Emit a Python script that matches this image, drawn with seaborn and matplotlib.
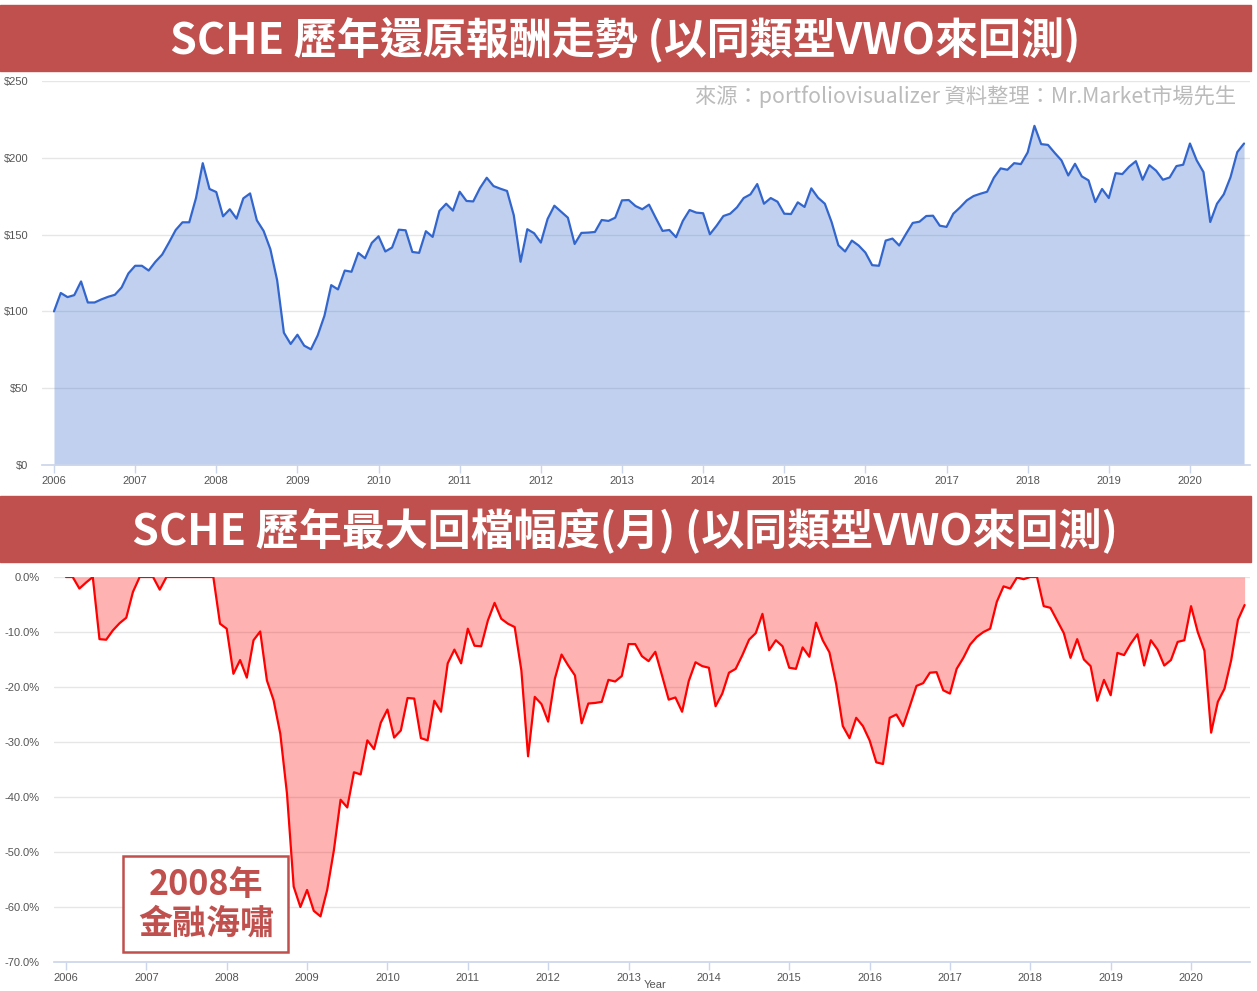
import numpy as np
import pandas as pd
import seaborn as sns
import matplotlib.pyplot as plt
from matplotlib.patches import Rectangle

# monthly values, Jan 2006 - Sep 2020
growth = [
    100, 112, 109.3, 110.6, 119.5, 105.8, 105.8, 107.8, 109.5, 110.8, 115.6, 124.7,    # 2006
    129.7, 129.7, 126.6, 132.3, 137, 144.8, 153, 158, 158, 173.8, 196.5, 179.7,        # 2007
    177.7, 161.9, 166.5, 160.4, 173.6, 176.8, 159.3, 152.4, 140.5, 120.3, 86.1, 78.8,  # 2008
    84.8, 77.7, 75.3, 84.4, 97.2, 117.1, 114.3, 126.6, 125.8, 138.1, 134.6, 144.6,     # 2009
    148.9, 139, 141.6, 153.2, 152.8, 138.7, 138.1, 152.2, 148.5, 165.4, 170.1, 165.6,  # 2010
    177.9, 171.9, 171.6, 180.3, 187, 181.6, 179.9, 178.4, 162.6, 132.3, 153.5, 150.9,  # 2011
    144.8, 160.2, 168.8, 164.9, 161, 143.9, 151.1, 151.3, 151.7, 159.5, 158.9, 161,    # 2012
    172.3, 172.5, 168.6, 166.5, 169.5, 160.8, 152.4, 153, 148.3, 158.9, 166, 164.3,    # 2013
    163.9, 150.2, 155.8, 162.1, 163.6, 167.7, 173.8, 176.2, 182.9, 170.1, 173.8, 171.4,  # 2014
    163.6, 163.4, 171, 168, 180.1, 174, 170.1, 158.2, 143.1, 139, 146.1, 142.9,        # 2015
    138.3, 130.1, 129.7, 146.1, 147.4, 142.9, 150.4, 157.6, 158.4, 162.1, 162.3, 155.8,  # 2016
    155, 163.6, 167.7, 172.3, 175.1, 176.6, 177.9, 187, 193.1, 192.2, 196.5, 195.9,    # 2017
    203.5, 220.8, 208.9, 208.4, 203.2, 198.3, 188.5, 196.1, 187.9, 185.3, 171.2, 179.7,  # 2018
    173.8, 190, 189.4, 194.2, 197.8, 185.7, 195.2, 191.6, 185.7, 187.2, 194.6, 195.5,  # 2019
    209.3, 198.3, 190.7, 158.2, 170.1, 176.2, 187.4, 203.7, 209.3,                     # 2020
]

# monthly drawdown in %, same months
drawdown = [
    0, 0, -2.1, -1.0, 0, -11.3, -11.4, -9.7, -8.4, -7.4, -2.7, 0,
    0, 0, -2.3, 0, 0, 0, 0, 0, 0, 0, 0, -8.5,
    -9.4, -17.6, -15.1, -18.3, -11.5, -9.9, -18.8, -22.4, -28.5, -39.4, -56.3, -60.0,
    -56.9, -60.7, -61.7, -56.9, -49.7, -40.5, -41.9, -35.5, -35.9, -29.7, -31.3, -26.5,
    -24.1, -29.2, -27.9, -22.0, -22.1, -29.3, -29.7, -22.5, -24.5, -15.7, -13.2, -15.7,
    -9.4, -12.5, -12.6, -7.9, -4.7, -7.6, -8.5, -9.1, -17.0, -32.6, -21.8, -23.1,
    -26.3, -18.5, -14.1, -16.1, -17.9, -26.6, -23.0, -22.9, -22.7, -18.7, -19.0, -18.0,
    -12.2, -12.2, -14.4, -15.3, -13.6, -17.9, -22.3, -21.9, -24.5, -18.9, -15.5, -16.2,
    -16.5, -23.5, -21.2, -17.4, -16.7, -14.2, -11.4, -10.2, -6.7, -13.3, -11.5, -12.6,
    -16.5, -16.7, -12.8, -14.5, -8.3, -11.5, -13.7, -19.4, -27.1, -29.3, -25.6, -27.1,
    -29.7, -33.7, -34.0, -25.6, -25.0, -27.1, -23.5, -19.8, -19.3, -17.4, -17.3, -20.6,
    -21.2, -16.7, -14.7, -12.3, -10.9, -10.0, -9.4, -4.5, -1.7, -2.1, -0.1, -0.4,
    0, 0, -5.3, -5.6, -7.9, -10.2, -14.7, -11.3, -15.0, -16.2, -22.5, -18.7,
    -21.5, -13.8, -14.2, -12.1, -10.4, -16.1, -11.5, -13.2, -16.1, -15.1, -11.8, -11.5,
    -5.3, -10.0, -13.4, -28.3, -22.7, -20.3, -15.1, -7.8, -5.1,
]

year_ticks = list(range(2006, 2021))
value_ticks = [0, 50, 100, 150, 200, 250]
value_labels = ['$0', '$50', '$100', '$150', '$200', '$250']
dd_ticks = [0, -10, -20, -30, -40, -50, -60, -70]
dd_labels = ['0.0%', '-10.0%', '-20.0%', '-30.0%', '-40.0%', '-50.0%', '-60.0%', '-70.0%']

title_top = 'SCHE 歷年還原報酬走勢 (以同類型VWO來回測)'
title_bottom = 'SCHE 歷年最大回檔幅度(月) (以同類型VWO來回測)'
source_text = '來源：portfoliovisualizer 資料整理：Mr.Market市場先生'
note_text = '2008年\n金融海嘯'

df = pd.DataFrame({'growth': growth, 'drawdown': drawdown})
df['year'] = 2006 + np.arange(len(df)) / 12

sns.set_theme(style='white')
plt.rcParams['font.family'] = ['Liberation Sans', 'Noto Sans CJK TC']

W, H = 1257, 991
BANNER = '#C0504D'
CJK = ['Noto Sans CJK TC', 'DejaVu Sans']


def box(x0, y0, x1, y1):
    return [x0 / W, 1 - y1 / H, (x1 - x0) / W, (y1 - y0) / H]


fig = plt.figure(figsize=(W / 100, H / 100), dpi=100)
ax1 = fig.add_axes(box(42, 81, 1250, 465))
ax2 = fig.add_axes(box(54, 577, 1250, 962))

# top: growth of $100
sns.lineplot(data=df, x='year', y='growth', ax=ax1, color='#3366CC', lw=1.6)
ax1.fill_between(df['year'], df['growth'], 0, color='#3366CC', alpha=0.3, lw=0)
ax1.set_ylim(0, 250)
ax1.set_xlim(2006 - 12 / 81.14, 2006 + 1196 / 81.14)
ax1.set_yticks(value_ticks)
ax1.set_yticklabels(value_labels)

# bottom: drawdown
sns.lineplot(data=df, x='year', y='drawdown', ax=ax2, color='#FF0000', lw=1.6)
ax2.fill_between(df['year'], df['drawdown'], 0, color='#FF0000', alpha=0.3, lw=0)
ax2.set_ylim(-70, 0)
ax2.set_xlim(2006 - 12 / 80.36, 2006 + 1184 / 80.36)
ax2.set_yticks(dd_ticks)
ax2.set_yticklabels(dd_labels)

for ax in (ax1, ax2):
    ax.set_xticks(year_ticks)
    ax.set_xticklabels([str(y) for y in year_ticks])
    ax.set_xlabel('')
    ax.set_ylabel('')
    ax.set_axisbelow(True)
    ax.grid(axis='y', color='#e6e6e6', lw=1)
    for s in ('top', 'left', 'right'):
        ax.spines[s].set_visible(False)
    ax.spines['bottom'].set_color('#ccd6eb')
    ax.tick_params(axis='x', length=6, width=1, color='#ccd6eb', pad=2,
                   labelsize=8, labelcolor='#555555', bottom=True)
    ax.tick_params(axis='y', length=0, labelsize=8, labelcolor='#555555')
ax1.tick_params(axis='y', pad=10)
ax2.tick_params(axis='y', pad=10.5)

# red title banners
for y0, y1, title in ((5, 70.5, title_top), (496, 562, title_bottom)):
    fig.add_artist(Rectangle((0, 1 - y1 / H), 1251 / W, (y1 - y0) / H,
                             transform=fig.transFigure, color=BANNER, zorder=0))
    fig.text(625 / W, 1 - ((y0 + y1) / 2 + 2) / H, title, ha='center', va='center',
             color='white', fontsize=31, fontweight='bold', family=CJK)

fig.text(1236 / W, 1 - 97 / H, source_text, ha='right', va='center',
         color='#BBBBBB', fontsize=15.3, family=CJK)

# 2008 note box
fig.add_artist(Rectangle((123 / W, 1 - 952 / H), 165 / W, 96 / H, transform=fig.transFigure,
                         facecolor='white', edgecolor=BANNER, lw=1.8, zorder=5))
fig.text(206 / W, 1 - 904 / H, note_text, ha='center', va='center', color=BANNER,
         fontsize=24.5, fontweight='bold', family=CJK, linespacing=1.15, zorder=6)

fig.text(655 / W, 1 - 980 / H, 'Year', ha='center', va='top', fontsize=8, color='#555555')

fig.savefig('out.png', dpi=100)
